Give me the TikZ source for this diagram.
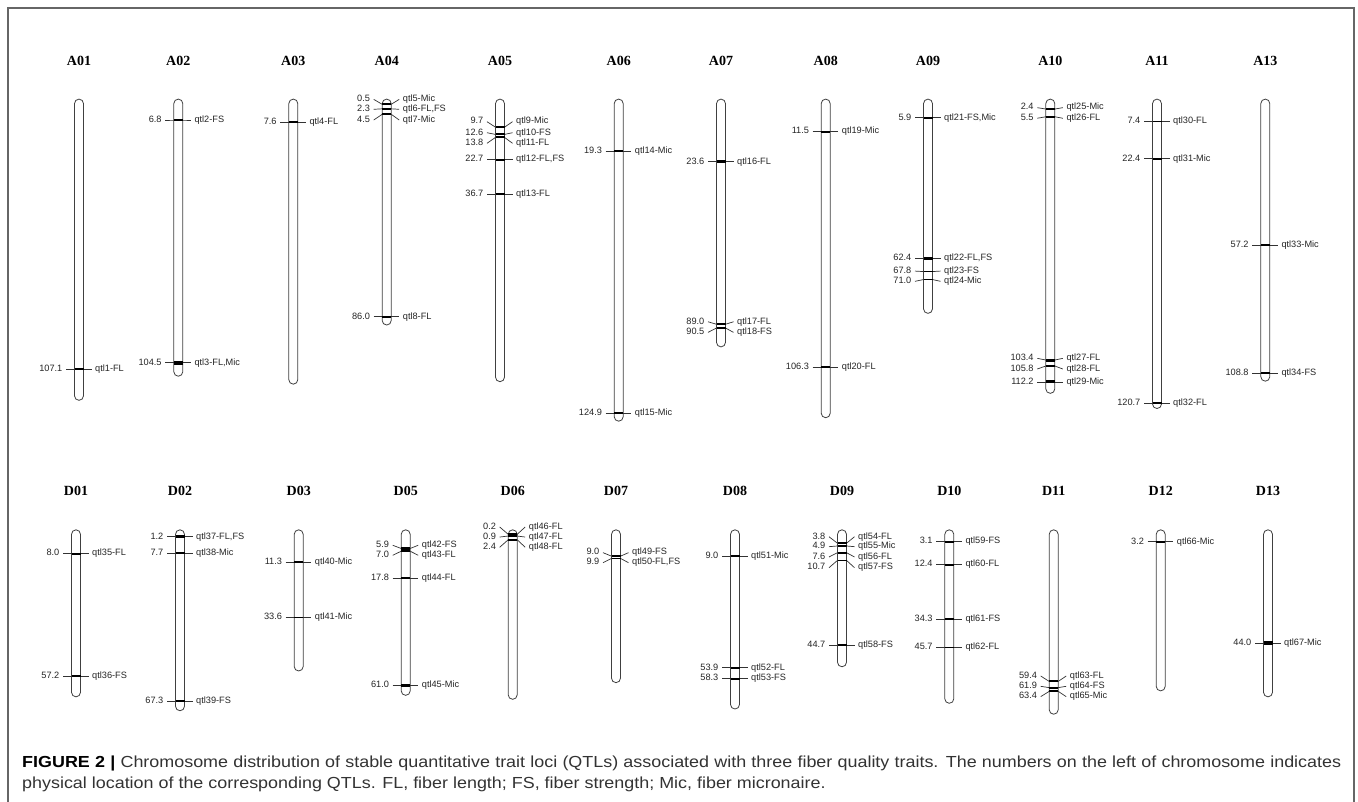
\documentclass[tikz,border=0pt]{standalone}
\usepackage{fontspec}
\setmainfont{Liberation Serif}
\newfontfamily\labfont{Liberation Sans}
\newfontfamily\capfont[FakeStretch=1.12]{Liberation Sans}
\tikzset{
 chr/.style={draw=black!75, line width=0.8pt, rounded corners=4.5pt},
 tick/.style={draw=black!80, line width=0.7pt},
 band/.style={draw=black},
 lab/.style={font=\labfont\fontsize{9.2}{10}\selectfont, inner sep=0pt, text=black!85},
 ttl/.style={font=\bfseries\fontsize{14}{16}\selectfont, inner sep=0pt},
 frame/.style={draw=black!60, line width=1.2pt},
 captext/.style={font=\capfont\fontsize{16}{21}\selectfont, inner sep=0pt, text=black!80, text width=1319pt, align=justify},
}
\newcommand{\chrom}[5]{%
  \node[ttl] (T#1) at ({#2},{#3-42.6}) {#5};
  \draw[chr] ({#2-4.5},{#3-4}) rectangle ({#2+4.5},{#3+#4*2.485+4});
}
\newcommand{\qtl}[8]{%
  \coordinate (Q#1a) at ({#2-13}, {#3+#4*2.485+(#5)});
  \coordinate (Q#1b) at ({#2-4.5}, {#3+#4*2.485});
  \coordinate (Q#1c) at ({#2+4.5}, {#3+#4*2.485});
  \coordinate (Q#1d) at ({#2+12.5}, {#3+#4*2.485+(#5)});
  \draw[tick] (Q#1a) -- (Q#1b) -- (Q#1c) -- (Q#1d);
  \draw[band, line width=#8] (Q#1b) -- (Q#1c);
  \node[lab, anchor=mid east] (N#1) at ([xshift=-3.5pt]Q#1a) {#6};
  \node[lab, anchor=mid west] (M#1) at ([xshift=3.5pt]Q#1d) {#7};
}
\begin{document}
\begin{tikzpicture}[x=1pt, y=-1pt]
\useasboundingbox (0,0) rectangle (1358,802);
\fill[white] (0,0) rectangle (1358,802);
\draw[frame] (8,803) -- (8,8) -- (1354,8) -- (1354,803);

% ---- top row ----
\chrom{A01}{79}{103.1}{118}{A01}
\qtl{1}{79}{103.1}{107.1}{0}{107.1}{qtl1-FL}{2pt}
\chrom{A02}{178.3}{103.1}{108.3}{A02}
\qtl{2}{178.3}{103.1}{6.8}{0}{6.8}{qtl2-FS}{2pt}
\qtl{3}{178.3}{103.1}{104.5}{0}{104.5}{qtl3-FL,Mic}{3.5pt}
\chrom{A03}{293.3}{103.1}{111.5}{A03}
\qtl{4}{293.3}{103.1}{7.6}{0}{7.6}{qtl4-FL}{1.6pt}
\chrom{A04}{386.7}{103.1}{87.7}{A04}
\qtl{5}{386.7}{103.1}{0.5}{-5}{0.5}{qtl5-Mic}{2pt}
\qtl{6}{386.7}{103.1}{2.3}{0.5}{2.3}{qtl6-FL,FS}{2pt}
\qtl{7}{386.7}{103.1}{4.5}{5.7}{4.5}{qtl7-Mic}{2pt}
\qtl{8}{386.7}{103.1}{86.0}{0}{86.0}{qtl8-FL}{1.6pt}
\chrom{A05}{500}{103.1}{110.5}{A05}
\qtl{9}{500}{103.1}{9.7}{-5.5}{9.7}{qtl9-Mic}{2pt}
\qtl{10}{500}{103.1}{12.6}{-1.7}{12.6}{qtl10-FS}{2pt}
\qtl{11}{500}{103.1}{13.8}{5.9}{13.8}{qtl11-FL}{2pt}
\qtl{12}{500}{103.1}{22.7}{0}{22.7}{qtl12-FL,FS}{2pt}
\qtl{13}{500}{103.1}{36.7}{0}{36.7}{qtl13-FL}{1.6pt}
\chrom{A06}{618.7}{103.1}{126.4}{A06}
\qtl{14}{618.7}{103.1}{19.3}{0}{19.3}{qtl14-Mic}{1.6pt}
\qtl{15}{618.7}{103.1}{124.9}{0}{124.9}{qtl15-Mic}{2pt}
\chrom{A07}{721}{103.1}{96.5}{A07}
\qtl{16}{721}{103.1}{23.6}{0}{23.6}{qtl16-FL}{2.5pt}
\qtl{17}{721}{103.1}{89.0}{-2.5}{89.0}{qtl17-FL}{2pt}
\qtl{18}{721}{103.1}{90.5}{4.4}{90.5}{qtl18-FS}{2pt}
\chrom{A08}{825.7}{103.1}{125}{A08}
\qtl{19}{825.7}{103.1}{11.5}{0}{11.5}{qtl19-Mic}{2pt}
\qtl{20}{825.7}{103.1}{106.3}{0}{106.3}{qtl20-FL}{1.6pt}
\chrom{A09}{928}{103.1}{83}{A09}
\qtl{21}{928}{103.1}{5.9}{0}{5.9}{qtl21-FS,Mic}{2pt}
\qtl{22}{928}{103.1}{62.4}{0}{62.4}{qtl22-FL,FS}{3pt}
\qtl{23}{928}{103.1}{67.8}{-0.5}{67.8}{qtl23-FS}{1.6pt}
\qtl{24}{928}{103.1}{71.0}{1.8}{71.0}{qtl24-Mic}{1.6pt}
\chrom{A10}{1050.3}{103.1}{115.2}{A10}
\qtl{25}{1050.3}{103.1}{2.4}{-1.4}{2.4}{qtl25-Mic}{1.6pt}
\qtl{26}{1050.3}{103.1}{5.5}{1.5}{5.5}{qtl26-FL}{2pt}
\qtl{27}{1050.3}{103.1}{103.4}{-1.7}{103.4}{qtl27-FL}{3pt}
\qtl{28}{1050.3}{103.1}{105.8}{3}{105.8}{qtl28-FL}{2.5pt}
\qtl{29}{1050.3}{103.1}{112.2}{0}{112.2}{qtl29-Mic}{3pt}
\chrom{A11}{1157}{103.1}{121.3}{A11}
\qtl{30}{1157}{103.1}{7.4}{0}{7.4}{qtl30-FL}{1.6pt}
\qtl{31}{1157}{103.1}{22.4}{0}{22.4}{qtl31-Mic}{1.6pt}
\qtl{32}{1157}{103.1}{120.7}{0}{120.7}{qtl32-FL}{2pt}
\chrom{A13}{1265.3}{103.1}{110.3}{A13}
\qtl{33}{1265.3}{103.1}{57.2}{0}{57.2}{qtl33-Mic}{1.6pt}
\qtl{34}{1265.3}{103.1}{108.8}{0}{108.8}{qtl34-FS}{2pt}

% ---- bottom row ----
\chrom{D01}{76}{533.8}{64}{D01}
\qtl{35}{76}{533.8}{8.0}{0}{8.0}{qtl35-FL}{2pt}
\qtl{36}{76}{533.8}{57.2}{0}{57.2}{qtl36-FS}{1.6pt}
\chrom{D02}{180}{533.8}{69.6}{D02}
\qtl{37}{180}{533.8}{1.2}{0}{1.2}{qtl37-FL,FS}{3pt}
\qtl{38}{180}{533.8}{7.7}{0}{7.7}{qtl38-Mic}{1.6pt}
\qtl{39}{180}{533.8}{67.3}{0}{67.3}{qtl39-FS}{2pt}
\chrom{D03}{298.7}{533.8}{53.6}{D03}
\qtl{40}{298.7}{533.8}{11.3}{0}{11.3}{qtl40-Mic}{1.6pt}
\qtl{41}{298.7}{533.8}{33.6}{0}{33.6}{qtl41-Mic}{1.2pt}
\chrom{D05}{405.7}{533.8}{63.4}{D05}
\qtl{42}{405.7}{533.8}{5.9}{-3.2}{5.9}{qtl42-FS}{3pt}
\qtl{43}{405.7}{533.8}{7.0}{4.1}{7.0}{qtl43-FL}{2.5pt}
\qtl{44}{405.7}{533.8}{17.8}{0}{17.8}{qtl44-FL}{1.6pt}
\qtl{45}{405.7}{533.8}{61.0}{0}{61.0}{qtl45-Mic}{3pt}
\chrom{D06}{512.7}{533.8}{65}{D06}
\qtl{46}{512.7}{533.8}{0.2}{-7.3}{0.2}{qtl46-FL}{2pt}
\qtl{47}{512.7}{533.8}{0.9}{1}{0.9}{qtl47-FL}{2pt}
\qtl{48}{512.7}{533.8}{2.4}{7.5}{2.4}{qtl48-FL}{2pt}
\chrom{D07}{616}{533.8}{58.3}{D07}
\qtl{49}{616}{533.8}{9.0}{-3.5}{9.0}{qtl49-FS}{1.6pt}
\qtl{50}{616}{533.8}{9.9}{4.3}{9.9}{qtl50-FL,FS}{1.6pt}
\chrom{D08}{735}{533.8}{68.9}{D08}
\qtl{51}{735}{533.8}{9.0}{0}{9.0}{qtl51-Mic}{1.6pt}
\qtl{52}{735}{533.8}{53.9}{0}{53.9}{qtl52-FL}{2pt}
\qtl{53}{735}{533.8}{58.3}{0}{58.3}{qtl53-FS}{2pt}
\chrom{D09}{842}{533.8}{51.9}{D09}
\qtl{54}{842}{533.8}{3.8}{-6.5}{3.8}{qtl54-FL}{2pt}
\qtl{55}{842}{533.8}{4.9}{0.7}{4.9}{qtl55-Mic}{2pt}
\qtl{56}{842}{533.8}{7.6}{4.3}{7.6}{qtl56-FL}{2pt}
\qtl{57}{842}{533.8}{10.7}{7.3}{10.7}{qtl57-FS}{1.6pt}
\qtl{58}{842}{533.8}{44.7}{0}{44.7}{qtl58-FS}{2pt}
\chrom{D10}{949.3}{533.8}{66.6}{D10}
\qtl{59}{949.3}{533.8}{3.1}{0}{3.1}{qtl59-FS}{2pt}
\qtl{60}{949.3}{533.8}{12.4}{0}{12.4}{qtl60-FL}{2pt}
\qtl{61}{949.3}{533.8}{34.3}{0}{34.3}{qtl61-FS}{2pt}
\qtl{62}{949.3}{533.8}{45.7}{0}{45.7}{qtl62-FL}{1.6pt}
\chrom{D11}{1053.7}{533.8}{71}{D11}
\qtl{63}{1053.7}{533.8}{59.4}{-5.4}{59.4}{qtl63-FL}{2pt}
\qtl{64}{1053.7}{533.8}{61.9}{-1.3}{61.9}{qtl64-FS}{2pt}
\qtl{65}{1053.7}{533.8}{63.4}{5.3}{63.4}{qtl65-Mic}{2pt}
\chrom{D12}{1160.7}{533.8}{61.6}{D12}
\qtl{66}{1160.7}{533.8}{3.2}{0}{3.2}{qtl66-Mic}{1.6pt}
\chrom{D13}{1268}{533.8}{64}{D13}
\qtl{67}{1268}{533.8}{44.0}{0}{44.0}{qtl67-Mic}{3.5pt}

% ---- caption ----
\node[captext, anchor=north west] (cap) at (22,756) {\textcolor{black}{\textbf{FIGURE 2 |}} Chromosome distribution of stable quantitative trait loci (QTLs) associated with three fiber quality traits. The numbers on the left of chromosome indicates\linebreak physical location of the corresponding QTLs. FL, fiber length; FS, fiber strength; Mic, fiber micronaire.};
\end{tikzpicture}
\end{document}
